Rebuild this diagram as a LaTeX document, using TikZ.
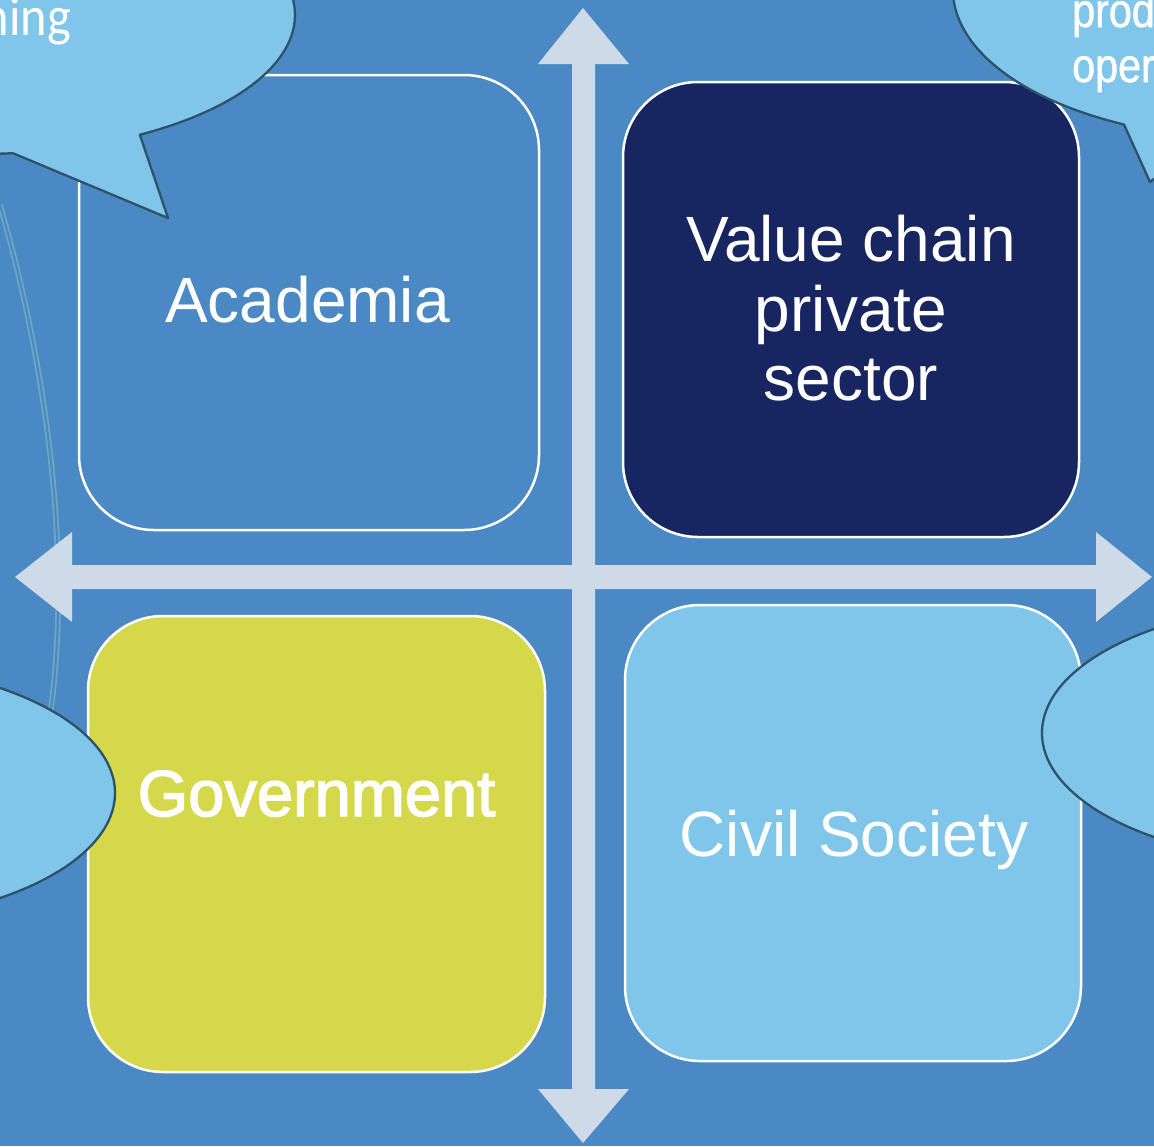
\documentclass[tikz,border=0pt]{standalone}
\usepackage{graphicx}
\usepackage{fontspec}
\setmainfont{Liberation Sans}
\newfontfamily\calfont{Carlito}
\newfontfamily\medfont[FakeBold=2.2]{Liberation Sans}
\newfontfamily\semifont[FakeBold=1.2]{Liberation Sans}
\definecolor{bg}{HTML}{4A89C4}
\definecolor{navy}{HTML}{172561}
\definecolor{lime}{HTML}{D5D84A}
\definecolor{sky}{HTML}{7FC6EA}
\definecolor{calline}{HTML}{2E5268}
\definecolor{arrowc}{HTML}{CFDAE8}
\definecolor{arcc}{HTML}{6EA9C0}
\tikzset{
  qbox/.style={draw=white, line width=2.5pt, rounded corners=75pt, inner sep=0pt},
  qtext/.style={text=white, anchor=base, inner sep=0pt, font=\fontsize{64}{70}\selectfont},
  callout/.style={fill=sky, draw=calline, line width=2.3pt, line join=round},
  cross/.style={fill=arrowc},
  arcline/.style={draw=arcc, line width=1.7pt, double=bg, double distance=2.2pt},
  ctext/.style={text=white, anchor=base west, inner sep=0pt}
}
\begin{document}
\begin{tikzpicture}[x=1pt,y=-1pt]
\useasboundingbox (0,0) rectangle (1154,1146);
\clip (0,0) rectangle (1154,1146);
\fill[bg] (0,0) rectangle (1154,1146);
% faint arc
\draw[arcline] (0,205) .. controls (45,360) and (75,560) .. (48,730);
% boxes
\node[qbox, fill=bg, minimum width=460pt, minimum height=455pt] (acad) at (309,302.5) {};
\node[qbox, fill=navy, minimum width=456pt, minimum height=455pt] (vc) at (851,309.5) {};
\node[qbox, fill=lime, minimum width=457pt, minimum height=456pt] (gov) at (316.5,844) {};
\node[qbox, fill=sky, minimum width=456pt, minimum height=456pt] (cs) at (853,833) {};
% texts
\node[qtext] (acadt) at (307.5,322) {Academia};
\node[qtext] (vct1) at (851,261) {Value chain};
\node[qtext] (vct2) at (851,331) {private};
\node[qtext] (vct3) at (851,400) {sector};
\node[qtext, font=\medfont\fontsize{65}{70}\selectfont] (govt) at (316.5,816) {Government};
\node[qtext] (cst) at (854,856) {Civil Society};
% cross arrows
\fill[cross] (583,8) -- (629,64) -- (595,64) -- (595,1089) -- (629,1089) -- (583,1143)
  -- (538,1089) -- (572,1089) -- (572,64) -- (538,64) -- cycle;
\fill[cross] (15,577) -- (72,532) -- (72,565) -- (1096,565) -- (1096,532) -- (1152,577)
  -- (1096,622) -- (1096,589) -- (72,589) -- (72,622) -- cycle;
% callouts
\draw[callout] (12.9,153.2) arc[start angle=84, end angle=419.5, x radius=315, y radius=139]
  -- (168,218) -- cycle;
\draw[callout] (1124,124.5) arc[start angle=116.3, end angle=460, x radius=307, y radius=150]
  -- (1150,182) -- cycle;
\draw[callout] (1322,733) ellipse[x radius=280, y radius=130];
\draw[callout] (-165,793) ellipse[x radius=280, y radius=130];
% callout texts
\node[ctext, anchor=base east, font=\calfont\fontsize{56}{60}\selectfont] (t1) at (71,35) {\scalebox{0.9}[1]{ning}};
\node[ctext, font=\semifont\fontsize{48}{55}\selectfont] (t2) at (1072,27) {\scalebox{0.86}[1]{prod}};
\node[ctext, font=\semifont\fontsize{48}{55}\selectfont] (t3) at (1072,82) {\scalebox{0.86}[1]{oper}};
\end{tikzpicture}
\end{document}
